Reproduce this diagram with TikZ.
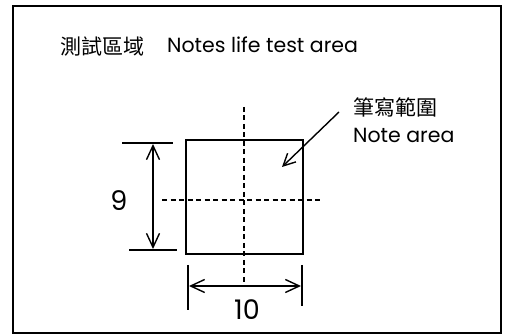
\documentclass[tikz,border=0pt]{standalone}
\usepackage{fontspec}
\setmainfont{Poppins}
\newfontfamily\cjk{Noto Sans CJK TC}
\usetikzlibrary{arrows.meta}
\tikzset{
  lbl/.style={inner sep=0pt, font=\fontsize{20.5}{22}\selectfont},
  numlbl/.style={inner sep=0pt, font=\fontsize{27}{28}\selectfont},
  cjklbl/.style={inner sep=0pt, font=\fontsize{21}{22}\selectfont\cjk},
  dimline/.style={line width=1.4pt, {Straight Barb[length=14pt,width=13pt]}-{Straight Barb[length=14pt,width=13pt]}},
  tick/.style={line width=1.4pt},
  dashline/.style={line width=1.4pt, dash pattern=on 5pt off 3.5pt},
  areabox/.style={draw, line width=1.4pt, minimum width=117pt, minimum height=114pt, inner sep=0pt},
  leader/.style={line width=1.4pt, -{Straight Barb[length=12pt,width=12pt]}},
}
\begin{document}
\begin{tikzpicture}[x=1pt,y=-1pt]
\useasboundingbox (0,0) rectangle (509,336);
\draw[line width=2pt] (13,6) rectangle (501,333);
% title
\node[cjklbl, anchor=west] (tcjk) at (60,47) {測試區域};
\node[lbl, anchor=base west] (ten) at (167,53) {Notes life test area};
% square
\node[areabox] (sq) at (244.5,197) {};
\coordinate (vt) at (244,107);
\coordinate (vb) at (244,283);
\coordinate (hl) at (162,200);
\coordinate (hr) at (323,200);
\draw[dashline] (vt) -- (vb);
\draw[dashline] (hl) -- (hr);
% vertical dimension
\coordinate (t1) at (122,143);
\coordinate (t2) at (173,143);
\coordinate (b1) at (129,250);
\coordinate (b2) at (177,250);
\draw[tick] (t1) -- (t2);
\draw[tick] (b1) -- (b2);
\coordinate (va) at (153,144);
\coordinate (vz) at (153,249);
\draw[dimline] (va) -- (vz);
\node[numlbl] (nine) at (119,201) {9};
% horizontal dimension
\coordinate (l1) at (188,265);
\coordinate (l2) at (188,310);
\coordinate (r1) at (302,265);
\coordinate (r2) at (302,306);
\draw[tick] (l1) -- (l2);
\draw[tick] (r1) -- (r2);
\coordinate (ha) at (189,286);
\coordinate (hz) at (301,286);
\draw[dimline] (ha) -- (hz);
\node[numlbl] (ten2) at (247,310) {10};
% note label
\node[cjklbl, anchor=west] (ncjk) at (353,107) {筆寫範圍};
\node[lbl, anchor=base west] (nen) at (353,143) {Note area};
\coordinate (ls) at (339,112);
\coordinate (lt) at (282,167);
\draw[leader] (ls) -- (lt);
\end{tikzpicture}
\end{document}
